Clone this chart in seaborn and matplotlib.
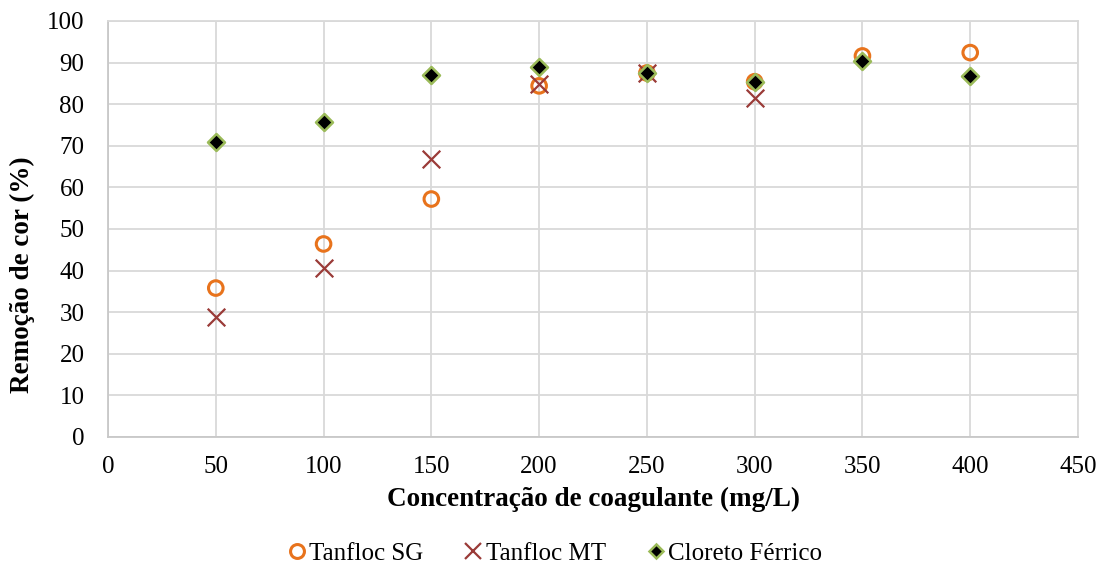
import matplotlib
matplotlib.use("Agg")
import matplotlib.pyplot as plt
from matplotlib.lines import Line2D
import seaborn as sns
import pandas as pd
import numpy as np

# Concentração (mg/L) e remoção de cor (%) por coagulante
conc_sg = [50, 100, 150, 200, 250, 300, 350, 400]
rem_sg = [35.8, 46.4, 57.2, 84.4, 87.5, 85.4, 91.6, 92.4]

conc_mt = [50, 100, 150, 200, 250, 300]
rem_mt = [28.8, 40.6, 66.8, 84.9, 87.4, 81.6]

conc_fe = [50, 100, 150, 200, 250, 300, 350, 400]
rem_fe = [70.9, 75.7, 87.0, 88.9, 87.4, 85.4, 90.3, 86.8]

series_names = ["Tanfloc SG", "Tanfloc MT", "Cloreto Férrico"]

df = pd.concat([
    pd.DataFrame({"conc": conc_sg, "rem": rem_sg, "serie": series_names[0]}),
    pd.DataFrame({"conc": conc_mt, "rem": rem_mt, "serie": series_names[1]}),
    pd.DataFrame({"conc": conc_fe, "rem": rem_fe, "serie": series_names[2]}),
], ignore_index=True)

sns.set_theme(style="white")
plt.rcParams["font.family"] = ["Liberation Serif", "DejaVu Serif"]
plt.rcParams["text.color"] = "black"
plt.rcParams["axes.labelcolor"] = "black"

fig = plt.figure(figsize=(11, 5.64), dpi=100)
ax = fig.add_axes([0.0982, 0.2252, 0.8818, 0.7376])

orange = "#E8731C"
red = "#9A3B38"
green = "#9BBB59"

styles = {
    "Tanfloc SG": dict(marker="o", s=110, facecolor="none", edgecolor=orange, linewidth=2.2),
    "Tanfloc MT": dict(marker="x", s=160, color=red, linewidth=1.6),
    "Cloreto Férrico": dict(marker="D", s=75, color="black", edgecolor=green, linewidth=1.8),
}

for name in series_names:
    sub = df[df["serie"] == name]
    sns.scatterplot(data=sub, x="conc", y="rem", ax=ax, zorder=3, legend=False,
                    **styles[name])

ax.set_xlim(0, 450)
ax.set_ylim(0, 100)
ax.set_xticks(np.arange(0, 451, 50))
ax.set_yticks(np.arange(0, 101, 10))
ax.grid(True, color="#D9D9D9", linewidth=1.3, zorder=0)
ax.set_axisbelow(True)
for side in ["top", "right"]:
    ax.spines[side].set_color("#D9D9D9")
    ax.spines[side].set_linewidth(1.3)
for side in ["left", "bottom"]:
    ax.spines[side].set_color("#C8C8C8")
    ax.spines[side].set_linewidth(1.3)
ax.tick_params(axis="both", labelsize=18, labelcolor="black", length=0)
ax.tick_params(axis="x", pad=14)
ax.tick_params(axis="y", pad=17)

ax.set_xlabel("Concentração de coagulante (mg/L)", fontsize=19.5, fontweight="bold",
              labelpad=6, color="black")
ax.set_ylabel("Remoção de cor (%)", fontsize=19.5, fontweight="bold", color="black")
ax.yaxis.set_label_coords(-0.0887, 0.39)
ax.yaxis.label.set_verticalalignment("center")

handles = [
    Line2D([], [], linestyle="none", marker="o", markersize=10, markerfacecolor="none",
           markeredgecolor=orange, markeredgewidth=2.2),
    Line2D([], [], linestyle="none", marker="x", markersize=12, color=red,
           markeredgewidth=1.6),
    Line2D([], [], linestyle="none", marker="D", markersize=7, markerfacecolor="black",
           markeredgecolor=green, markeredgewidth=1.8),
]
fig.legend(handles, series_names, loc="center", bbox_to_anchor=(0.503, 0.018), ncol=3,
           frameon=False, fontsize=18, handletextpad=0.0, columnspacing=1.5,
           handlelength=1.0, borderaxespad=0, labelcolor="black")

fig.savefig("out.png", dpi=100)
